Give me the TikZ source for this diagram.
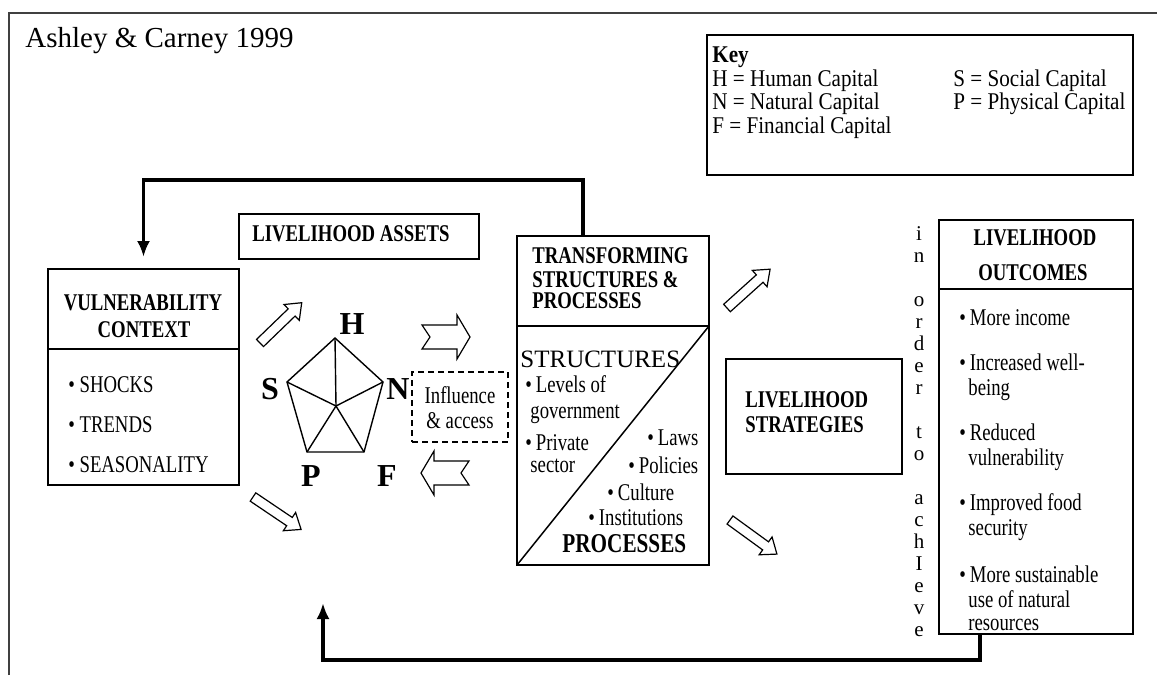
\documentclass[tikz,border=0pt]{standalone}
\usepackage{fontspec}
\setmainfont{Liberation Serif}
\newfontfamily\cnd[FakeStretch=0.78]{Liberation Serif}
\newfontfamily\keyfont[FakeStretch=0.88]{Liberation Serif}
\usetikzlibrary{arrows.meta,fit}

\tikzset{
  box/.style={draw, line width=0.75pt, inner sep=0pt, outer sep=0pt},
  headtxt/.style={font=\cnd\bfseries\fontsize{12}{14}\selectfont, inner sep=0pt},
  itemtxt/.style={font=\cnd\fontsize{12}{14}\selectfont, inner sep=0pt},
  keytxt/.style={font=\keyfont\fontsize{12}{14}\selectfont, inner sep=0pt, anchor=base west},
  capital/.style={font=\bfseries\fontsize{16}{18}\selectfont, inner sep=0pt},
  feedback/.style={line width=1.6pt, -{Latex[length=8pt,width=6.5pt]}},
  hollow/.pic={\draw[line width=0.6pt, fill=white] (0,-5) -- (44,-5) -- (44,-11) -- (58,0) -- (44,11) -- (44,5) -- (0,5) -- cycle;},
  notched/.pic={\draw[line width=0.6pt, fill=white] (0,-12) -- (35,-12) -- (35,-22) -- (48,0) -- (35,22) -- (35,12) -- (0,12) -- (8,0) -- cycle;}
}

\begin{document}
\begin{tikzpicture}[x=0.5pt,y=-0.5pt]
\useasboundingbox (0,0) rectangle (1157,675);

% frame and title
\draw[line width=0.8pt, black!75] (9,675) -- (9,13) -- (1157,13);
\node[anchor=base west, inner sep=0pt, font=\fontsize{14.5}{17}\selectfont] (title) at (25,47) {Ashley \& Carney 1999};

% key
\node[box, fit={(707,35) (1133,175)}] (key) {};
\node[keytxt, font=\keyfont\bfseries\fontsize{12}{14}\selectfont] (keyhead) at (712,62) {Key};
\foreach \x/\y/\t [count=\i] in {712/86/H = Human Capital, 953/86/S = Social Capital,
    712/109/N = Natural Capital, 953/109/P = Physical Capital, 712/133/F = Financial Capital}
  \node[keytxt] (key\i) at (\x,\y) {\t};

% vulnerability context
\node[box, fit={(48,269) (239,485)}] (vul) {};
\draw[line width=0.75pt] (vul.west |- 0,349) -- (vul.east |- 0,349);
\node[headtxt, anchor=base] (vulA) at (143,310) {VULNERABILITY};
\node[headtxt, anchor=base] (vulB) at (144,337) {CONTEXT};
\foreach \y/\t [count=\i] in {392/SHOCKS,432/TRENDS,472/SEASONALITY}
  \node[itemtxt, anchor=base west] (vul\i) at (68,\y) {\textbullet\ \t};

% livelihood assets
\node[box, fit={(239,214) (479,259)}] (assets) {};
\node[headtxt, anchor=base west] (assetsA) at (252,241) {LIVELIHOOD ASSETS};

% asset pentagon
\coordinate (pH) at (335,338);
\coordinate (pN) at (383,382);
\coordinate (pF) at (364,452);
\coordinate (pP) at (307,452);
\coordinate (pS) at (287,382);
\coordinate (pc) at (336,406);
\draw[line width=0.7pt] (pH) -- (pN) -- (pF) -- (pP) -- (pS) -- cycle;
\foreach \v in {pH,pN,pF,pP,pS}
  \draw[line width=0.7pt] (pc) -- (\v);
\node[capital] (capH) at (352,324) {H};
\node[capital] (capS) at (270,389) {S};
\node[capital] (capN) at (398,389) {N};
\node[capital] (capP) at (311,476) {P};
\node[capital] (capF) at (387,476) {F};

% influence and access
\node[box, dash pattern=on 3pt off 2pt, fit={(412,372) (508,442)}] (infl) {};
\node[itemtxt, anchor=base] (inflA) at (460,403) {Influence};
\node[itemtxt, anchor=base] (inflB) at (460,428) {\& access};

% transforming structures and processes
\node[box, fit={(517,236) (709,565)}] (trans) {};
\draw[line width=0.75pt] (trans.west |- 0,326) -- (trans.east |- 0,326);
\draw[line width=0.75pt] (trans.south west) -- (trans.east |- 0,326);
\foreach \y/\t [count=\i] in {263/TRANSFORMING,287/STRUCTURES \&,308/PROCESSES}
  \node[headtxt, anchor=base west] (trans\i) at (532,\y) {\t};
\node[anchor=base west, inner sep=0pt, font=\fontsize{12.5}{15}\selectfont] (struct) at (520,367) {STRUCTURES};
\foreach \x/\y/\t [count=\i] in {525/392/\textbullet\,Levels of, 530/418/government,
    525/450/\textbullet\,Private, 530/472/sector, 647/445/\textbullet\,Laws,
    628/473/\textbullet\,Policies, 607/500/\textbullet\,Culture, 588/525/\textbullet\,Institutions}
  \node[itemtxt, anchor=base west] (struct\i) at (\x,\y) {\t};
\node[headtxt, anchor=base west, font=\cnd\bfseries\fontsize{13.6}{16}\selectfont] (proc) at (562,552) {PROCESSES};

% livelihood strategies
\node[box, fit={(726,359) (902,474)}] (strat) {};
\node[headtxt, anchor=base west] (stratA) at (745,407) {LIVELIHOOD};
\node[headtxt, anchor=base west] (stratB) at (745,432) {STRATEGIES};

% in order to achieve
\foreach \c/\k in {i/0,n/1,o/3,r/4,d/5,e/6,r/7,t/9,o/10,a/12,c/13,h/14,I/15,e/16,v/17,e/18}
  \node[anchor=base, inner sep=0pt, font=\fontsize{10.5}{12}\selectfont] (ach\k) at (919,240+22*\k) {\c};

% livelihood outcomes
\node[box, fit={(939,220) (1133,634)}] (outc) {};
\draw[line width=0.75pt] (outc.west |- 0,289) -- (outc.east |- 0,289);
\node[headtxt, anchor=base] (outcA) at (1035,245) {LIVELIHOOD};
\node[headtxt, anchor=base] (outcB) at (1033,280) {OUTCOMES};
\foreach \y/\t [count=\i] in {325/More income,370/Increased well-,440/Reduced,510/Improved food,582/More sustainable}
  \node[itemtxt, anchor=base west] (outc\i) at (959,\y) {\textbullet\,\t};
\foreach \y/\t [count=\i] in {395/being,465/vulnerability,535/security,607/use of natural,630/resources}
  \node[itemtxt, anchor=base west] (outx\i) at (968,\y) {\t};

% hollow arrows
\pic[rotate=44] at (260,343) {hollow};
\pic[rotate=-34] at (253,497) {hollow};
\pic[rotate=42] at (727,308) {hollow};
\pic[rotate=-36] at (730,520) {hollow};
\pic at (422,337) {notched};
\pic[rotate=180] at (469,473) {notched};

% feedback loops
\draw[feedback, shorten >=6pt] ([xshift=33pt]trans.north west) -- ++(0,-56) -| (vul.north);
\coordinate (back) at (323,603);
\draw[feedback] ([xshift=20.5pt]outc.south west) -- ++(0,26) -| (back);

\end{tikzpicture}
\end{document}
